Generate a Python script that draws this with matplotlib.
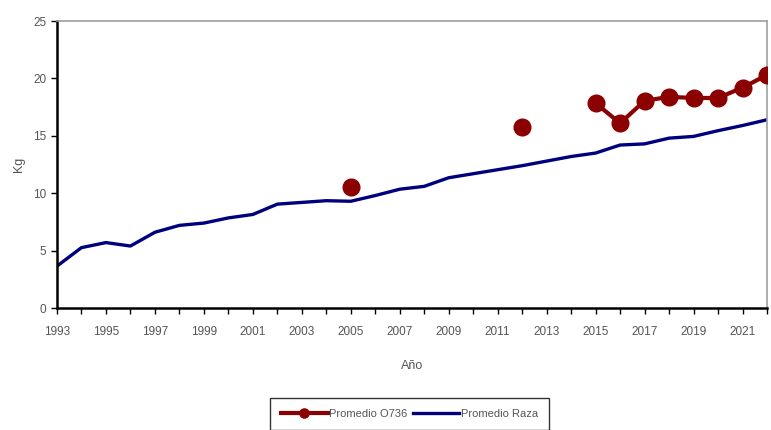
import numpy as np
import matplotlib
matplotlib.use('Agg')
from matplotlib import pyplot as plt
from matplotlib.ticker import MultipleLocator

# Data
years = list(range(1993, 2023))
raza = [3.65, 5.26, 5.7, 5.4, 6.6, 7.2, 7.4, 7.85, 8.15, 9.05,
        9.2, 9.35, 9.3, 9.8, 10.35, 10.6, 11.35, 11.7, 12.05, 12.4,
        12.8, 13.2, 13.5, 14.2, 14.3, 14.8, 14.95, 15.45, 15.9, 16.4]
o736 = [np.nan] * 12 + [10.55] + [np.nan] * 6 + [15.8] + [np.nan] * 2 + \
       [17.85, 16.1, 18.05, 18.4, 18.3, 18.3, 19.2, 20.3]

label_o736 = 'Promedio O736'
label_raza = 'Promedio Raza'

plt.rcParams['font.family'] = ['Liberation Sans', 'DejaVu Sans']
txt = '#555555'

fig = plt.figure(figsize=(7.71, 4.30), dpi=100)
ax = fig.add_axes([0.0739, 0.2837, 0.9209, 0.6673])

ax.plot(years, o736, color='#8b0000', lw=3, marker='o', ms=12,
        label=label_o736, zorder=3)
ax.plot(years, raza, color='#00007f', lw=2.4, label=label_raza, zorder=2)

ax.set_xlim(1993, 2022)
ax.set_ylim(0, 25)
ax.set_xticks(range(1993, 2022, 2))
ax.xaxis.set_minor_locator(MultipleLocator(1))
ax.yaxis.set_major_locator(MultipleLocator(5))
ax.tick_params(axis='both', labelsize=8.5, labelcolor=txt, color='black',
               length=4, width=1)
ax.tick_params(axis='x', pad=9)
ax.tick_params(axis='x', which='minor', length=4, width=1)

for s in ['left', 'bottom']:
    ax.spines[s].set_color('black')
    ax.spines[s].set_linewidth(1.8)
for s in ['top', 'right']:
    ax.spines[s].set_color('#a0a0a0')
    ax.spines[s].set_linewidth(1.2)

ax.set_ylabel('Kg', fontsize=9, color=txt, labelpad=6)
ax.set_xlabel('Año', fontsize=9, color=txt, labelpad=16)

leg = fig.legend(loc='lower center', bbox_to_anchor=(0.531, 0.0), ncol=2,
                 fontsize=8, frameon=True, fancybox=False, edgecolor='black',
                 handlelength=4.2, handletextpad=0.1, columnspacing=0.5,
                 borderpad=1.0, borderaxespad=0, markerscale=0.55)
for t in leg.get_texts():
    t.set_color(txt)
leg.get_frame().set_linewidth(1)

fig.savefig('out.png', dpi=100)
